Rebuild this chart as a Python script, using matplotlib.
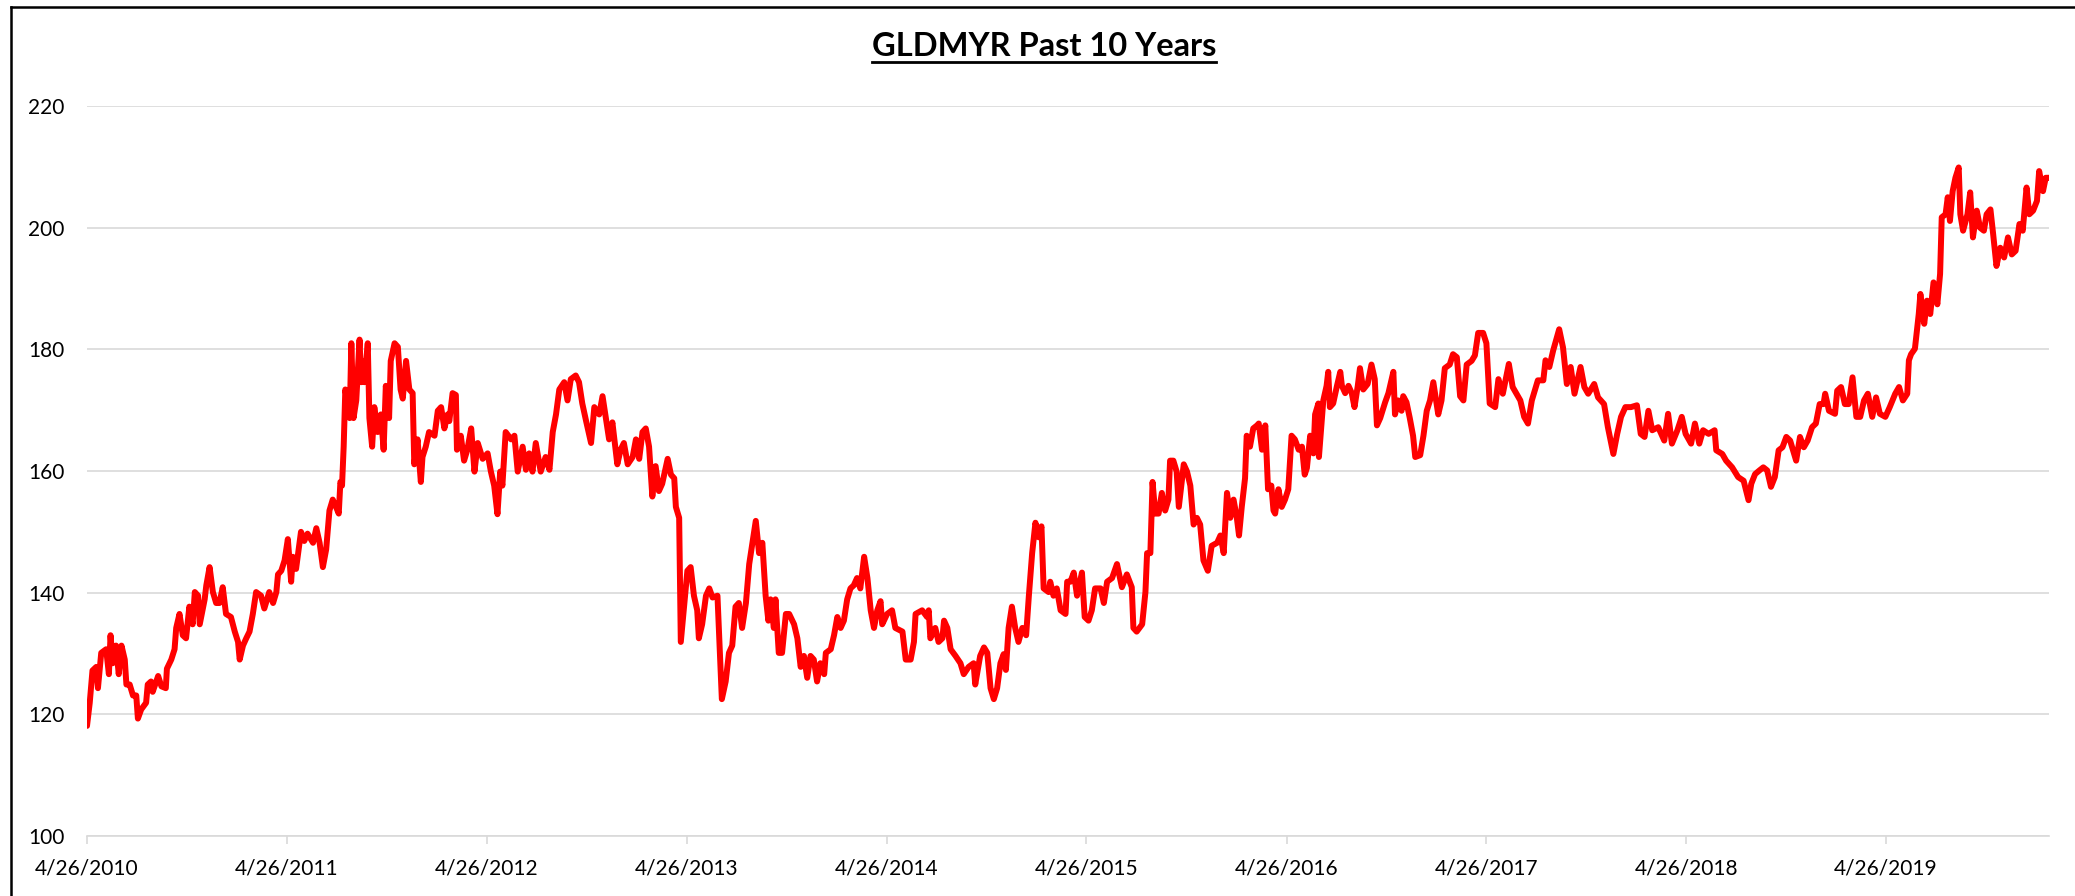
import numpy as np
import pandas as pd
import matplotlib
matplotlib.use("Agg")
import matplotlib.pyplot as plt
from matplotlib.lines import Line2D

# GLDMYR price. x = days after START
START = "2010-04-26"

days_a = [0, 5, 10, 17, 20, 26, 35, 40, 43, 47,
          53, 58, 63, 69, 72, 78, 84, 90, 93, 99,
          108, 111, 117, 120, 130, 136, 144, 146, 154, 160,
          163, 169, 175, 181, 187, 193, 197, 203, 206, 215,
          218, 224, 230, 236, 242, 248, 254, 263, 270, 276,
          279, 285, 291, 297, 303, 309, 318, 324, 333, 340,
          346, 349, 355, 361, 367, 373, 376, 382, 391, 397,
          403, 413, 419, 425, 431, 437, 443, 449, 455, 460,
          463, 466, 469, 472, 476, 480, 483, 487, 492, 498,
          501, 504, 507, 513, 516, 521, 525, 531, 537, 542,
          546, 552, 555, 562, 568, 573, 577, 583, 589, 595,
          598, 604, 610, 613, 619, 625, 635, 641, 647, 653,
          659, 662, 668, 674, 676, 683, 689, 695, 702, 708,
          714, 723, 732, 738, 744, 750, 755, 759, 765, 775,
          781, 787, 796, 802, 808, 814, 820, 829, 838, 845,
          851, 857, 863, 872, 878, 884, 893]
price_a = [118.1, 121.9, 127.2, 127.8, 124.3, 130.1, 130.7, 126.6, 133.0, 128.4,
           131.3, 126.6, 131.3, 129.0, 124.9, 124.9, 123.1, 123.1, 119.3, 120.8,
           121.9, 124.9, 125.4, 123.7, 126.3, 124.6, 124.3, 127.5, 129.0, 130.7,
           134.2, 136.5, 133.0, 132.5, 137.7, 134.8, 140.1, 139.5, 134.8, 138.9,
           141.2, 144.2, 140.1, 138.3, 138.3, 140.9, 136.5, 136.0, 133.6, 131.9,
           129.0, 131.3, 132.5, 133.6, 136.5, 140.1, 139.5, 137.4, 140.1, 138.3,
           140.1, 143.0, 143.6, 145.3, 148.8, 141.8, 145.9, 143.9, 150.0, 148.5,
           149.7, 148.2, 150.6, 148.2, 144.2, 147.1, 153.5, 155.3, 154.1, 153.0,
           158.2, 157.6, 164.0, 173.4, 171.1, 168.7, 181.0, 168.7, 171.6, 181.6,
           174.6, 178.1, 174.6, 181.0, 168.7, 164.0, 170.5, 166.4, 169.3, 163.5,
           174.0, 168.7, 178.1, 181.0, 180.4, 173.4, 171.9, 178.1, 173.4, 172.8,
           161.1, 165.2, 158.2, 162.3, 164.0, 166.4, 165.8, 169.9, 170.5, 167.0,
           169.3, 168.2, 172.8, 172.5, 163.5, 165.8, 161.7, 163.5, 167.0, 159.9,
           164.6, 162.0, 162.9, 159.9, 157.6, 152.9, 159.9, 157.6, 166.4, 165.2,
           165.8, 159.9, 164.0, 160.2, 162.9, 159.9, 164.6, 159.9, 162.3, 160.2,
           166.4, 169.3, 173.4, 174.6, 171.6, 175.1, 175.7]

days_b = [899, 905, 912, 921, 927, 936, 942, 948, 954, 960,
          969, 975, 981, 988, 997, 1003, 1009, 1015, 1021, 1027,
          1033, 1039, 1045, 1051, 1061, 1067, 1073, 1076, 1082, 1085,
          1091, 1097, 1103, 1109, 1115, 1118, 1124, 1131, 1137, 1143,
          1152, 1155, 1160, 1167, 1173, 1179, 1185, 1191, 1197, 1204,
          1210, 1216, 1222, 1228, 1234, 1240, 1245, 1249, 1255, 1258,
          1264, 1270, 1277, 1283, 1292, 1298, 1304, 1310, 1316, 1322,
          1328, 1334, 1340, 1347, 1350, 1359, 1365, 1371, 1377, 1383,
          1389, 1395, 1401, 1407, 1413, 1420, 1426, 1432, 1438, 1444,
          1450, 1453, 1462, 1471, 1477, 1490, 1496, 1505, 1511, 1514,
          1526, 1535, 1538, 1541, 1550, 1556, 1563, 1566, 1572, 1578,
          1587, 1596, 1602, 1611, 1620, 1623, 1632, 1639, 1645, 1651,
          1657, 1663, 1669, 1675, 1679, 1684, 1690, 1696, 1702, 1709,
          1716, 1721, 1727, 1733, 1739, 1744, 1748, 1757]
price_b = [174.6, 171.1, 168.2, 164.6, 170.5, 169.3, 172.3, 168.7, 165.2, 168.0,
           161.1, 163.5, 164.6, 161.1, 162.3, 165.2, 162.0, 166.4, 167.0, 164.0,
           155.8, 160.8, 156.7, 157.9, 162.0, 159.4, 158.8, 154.1, 152.3, 131.9,
           137.7, 143.6, 144.2, 139.5, 137.1, 132.5, 134.8, 139.5, 140.7, 139.2,
           139.5, 133.0, 122.5, 125.4, 130.1, 131.3, 137.7, 138.3, 134.2, 138.3,
           144.7, 148.2, 151.8, 146.5, 148.2, 139.5, 135.4, 138.9, 134.2, 138.9,
           130.1, 130.1, 136.5, 136.5, 134.8, 132.5, 127.8, 129.6, 126.0, 129.6,
           129.0, 125.4, 128.4, 126.6, 130.1, 130.7, 133.0, 136.0, 134.2, 135.4,
           138.9, 140.7, 141.2, 142.4, 140.7, 145.9, 142.4, 137.1, 134.2, 137.1,
           138.6, 134.8, 136.5, 137.1, 134.2, 133.6, 129.0, 129.0, 131.9, 136.5,
           137.1, 136.0, 137.1, 132.5, 134.2, 131.9, 132.5, 135.4, 134.2, 130.7,
           129.6, 128.4, 126.6, 127.8, 128.4, 124.9, 129.6, 131.0, 130.1, 124.3,
           122.5, 124.3, 128.4, 129.9, 127.3, 134.2, 137.7, 134.2, 131.9, 134.2,
           133.0, 139.5, 146.5, 151.5, 149.1, 150.9, 140.7, 140.1]

days_c = [1760, 1766, 1772, 1779, 1788, 1791, 1797, 1803, 1809, 1818,
          1823, 1830, 1836, 1842, 1852, 1858, 1864, 1873, 1882, 1891,
          1900, 1909, 1912, 1918, 1928, 1934, 1937, 1943, 1947, 1952,
          1958, 1964, 1970, 1976, 1979, 1985, 1991, 1995, 2004, 2010,
          2016, 2022, 2028, 2034, 2037, 2040, 2048, 2055, 2065, 2071,
          2077, 2083, 2089, 2095, 2101, 2105, 2110, 2116, 2119, 2125,
          2131, 2138, 2141, 2147, 2153, 2158, 2164, 2168, 2171, 2177,
          2183, 2189, 2195, 2201, 2207, 2214, 2220, 2225, 2229, 2235,
          2241, 2244, 2250, 2251, 2259, 2265, 2268, 2271, 2277, 2284,
          2290, 2293, 2299, 2305, 2311, 2316, 2322, 2326, 2332, 2340,
          2347, 2353, 2357, 2363, 2372, 2378, 2384, 2387, 2390, 2396,
          2402, 2405, 2411, 2417, 2423, 2427, 2436, 2442, 2448, 2454,
          2460, 2469, 2475, 2481, 2490, 2496, 2503, 2509, 2515, 2521,
          2530, 2536, 2542, 2551, 2557, 2563, 2573, 2579]
price_c = [141.8, 139.5, 140.7, 137.1, 136.5, 141.8, 141.8, 143.3, 139.5, 143.3,
           136.0, 135.4, 137.1, 140.7, 140.7, 138.3, 141.8, 142.4, 144.7, 140.9,
           143.0, 140.9, 134.2, 133.6, 134.8, 140.1, 146.5, 146.5, 158.2, 153.0,
           153.0, 156.4, 153.5, 155.3, 161.7, 161.7, 159.9, 154.1, 161.1, 159.9,
           157.6, 151.2, 152.3, 151.2, 148.2, 145.3, 143.6, 147.7, 148.2, 149.4,
           146.5, 156.4, 152.3, 155.3, 152.3, 149.4, 154.1, 158.8, 165.8, 164.0,
           167.0, 167.5, 167.8, 163.5, 167.5, 157.0, 157.6, 153.5, 153.0, 157.0,
           154.1, 155.3, 157.0, 165.8, 165.2, 163.5, 164.0, 159.4, 160.5, 165.8,
           162.9, 169.3, 171.1, 162.3, 171.6, 174.0, 176.3, 170.5, 171.1, 174.0,
           176.3, 174.0, 172.8, 174.0, 172.8, 170.5, 174.0, 176.9, 173.4, 174.3,
           177.5, 175.1, 167.5, 168.7, 171.3, 172.8, 175.1, 176.3, 169.3, 171.6,
           169.9, 172.3, 171.3, 168.7, 165.8, 162.3, 162.6, 165.8, 169.9, 171.6,
           174.6, 169.3, 171.6, 176.9, 177.5, 179.2, 178.7, 172.3, 171.6, 177.5,
           178.1, 179.0, 182.7, 182.7, 181.0, 171.1, 170.5, 175.1]

days_d = [2587, 2598, 2605, 2612, 2619, 2626, 2633, 2640, 2651, 2661,
          2665, 2672, 2679, 2690, 2697, 2704, 2711, 2718, 2729, 2736,
          2743, 2754, 2761, 2772, 2779, 2789, 2796, 2803, 2811, 2821,
          2832, 2839, 2846, 2853, 2860, 2871, 2882, 2889, 2896, 2906,
          2914, 2921, 2931, 2938, 2946, 2953, 2963, 2974, 2977, 2988,
          2995, 3006, 3017, 3027, 3036, 3041, 3048, 3056, 3063, 3070,
          3077, 3084, 3091, 3098, 3105, 3112, 3123, 3130, 3137, 3144,
          3152, 3159, 3166, 3173, 3176, 3183, 3194, 3198, 3205, 3212,
          3219, 3226, 3233, 3240, 3247, 3254, 3262, 3269, 3276, 3286,
          3294, 3304, 3311, 3318, 3326, 3329, 3333, 3340, 3347, 3350,
          3357, 3362, 3368, 3374, 3381, 3386, 3389, 3396, 3400, 3404,
          3409, 3414, 3420, 3423, 3428, 3436, 3441, 3446, 3453, 3459,
          3466, 3471, 3478, 3483, 3489, 3496, 3503, 3510, 3517, 3524,
          3531, 3537, 3544, 3549, 3556, 3563, 3567, 3574, 3579, 3585]
price_d = [172.7, 177.6, 173.8, 172.7, 171.6, 168.9, 167.8, 171.6, 174.9, 174.9,
           178.2, 177.1, 179.8, 183.3, 180.3, 174.3, 177.1, 172.7, 177.1, 173.8,
           172.7, 174.3, 172.1, 171.0, 167.2, 162.8, 166.1, 168.9, 170.5, 170.5,
           170.8, 166.1, 165.6, 169.9, 166.7, 167.2, 165.0, 169.4, 164.5, 166.7,
           168.9, 166.1, 164.5, 167.8, 164.5, 166.7, 166.1, 166.7, 163.4, 162.8,
           161.7, 160.6, 159.0, 158.4, 155.2, 157.9, 159.5, 160.1, 160.6, 160.1,
           157.4, 159.0, 163.4, 163.9, 165.6, 165.0, 161.7, 165.6, 163.9, 165.0,
           167.2, 167.8, 171.0, 171.0, 172.7, 169.9, 169.4, 173.2, 173.8, 171.0,
           171.0, 175.4, 168.9, 168.9, 171.6, 172.7, 168.9, 172.1, 169.4, 168.9,
           170.5, 172.7, 173.8, 171.6, 172.7, 178.2, 179.2, 180.1, 185.8, 189.1,
           184.2, 188.0, 185.8, 191.0, 187.4, 192.4, 201.7, 202.2, 205.0, 201.1,
           206.0, 208.2, 209.9, 202.2, 199.5, 202.2, 205.8, 198.4, 202.8, 200.0,
           199.5, 202.2, 203.0, 198.9, 193.7, 196.7, 195.1, 198.4, 195.6, 196.2,
           200.6, 199.5, 206.6, 202.2, 202.8, 204.4, 209.3, 206.0, 208.2, 208.2]

tick_dates = ["2010-04-26", "2011-04-26", "2012-04-26", "2013-04-26", "2014-04-26",
              "2015-04-26", "2016-04-26", "2017-04-26", "2018-04-26", "2019-04-26"]
y_ticks = [100, 120, 140, 160, 180, 200, 220]
TITLE = "GLDMYR Past 10 Years"

for d, p in [(days_a, price_a), (days_b, price_b), (days_c, price_c), (days_d, price_d)]:
    assert len(d) == len(p), (len(d), len(p))

days = days_a + days_b + days_c + days_d
price = price_a + price_b + price_c + price_d
dates = pd.Timestamp(START) + pd.to_timedelta(days, unit="D")
ticks = pd.to_datetime(tick_dates)

plt.rcParams["font.family"] = ["Lato", "DejaVu Sans"]

W, H = 2075, 896
fig = plt.figure(figsize=(W / 100, H / 100), dpi=100)
ax = fig.add_axes([87 / W, 1 - 836 / H, (2049 - 87) / W, (836 - 106) / H])

ax.plot(dates, price, color="#ff0000", lw=4.3, solid_joinstyle="round", solid_capstyle="round")

ax.set_ylim(100, 220)
ax.set_xlim(dates[0], dates[-1])
ax.set_yticks(y_ticks)
ax.yaxis.grid(True, color="#d9d9d9", lw=1.2)
ax.set_axisbelow(True)
for s in ["top", "right", "left"]:
    ax.spines[s].set_visible(False)
ax.spines["bottom"].set_color("#d9d9d9")
ax.spines["bottom"].set_linewidth(1.2)

ax.set_xticks(ticks)
ax.set_xticklabels([f"{t.month}/{t.day}/{t.year}" for t in ticks])
ax.tick_params(axis="x", length=6, width=1.2, color="#d9d9d9", pad=10, labelsize=15)
ax.tick_params(axis="y", length=0, pad=16, labelsize=15)

# title with underline
title = fig.text(1044 / W, 1 - 47 / H, TITLE, ha="center", va="center",
                 fontsize=23.5, fontweight="bold")
fig.canvas.draw()
bb = title.get_window_extent()
uy = (bb.y0 - 1) / H
fig.add_artist(Line2D([bb.x0 / W, bb.x1 / W], [uy, uy], color="black", lw=2.0))

# chart border (left and top)
fig.add_artist(Line2D([11 / W, 11 / W], [0, 1 - 7 / H], color="black", lw=1.8))
fig.add_artist(Line2D([11 / W, 1], [1 - 7 / H, 1 - 7 / H], color="black", lw=1.8))

fig.savefig("out.png", dpi=100)
